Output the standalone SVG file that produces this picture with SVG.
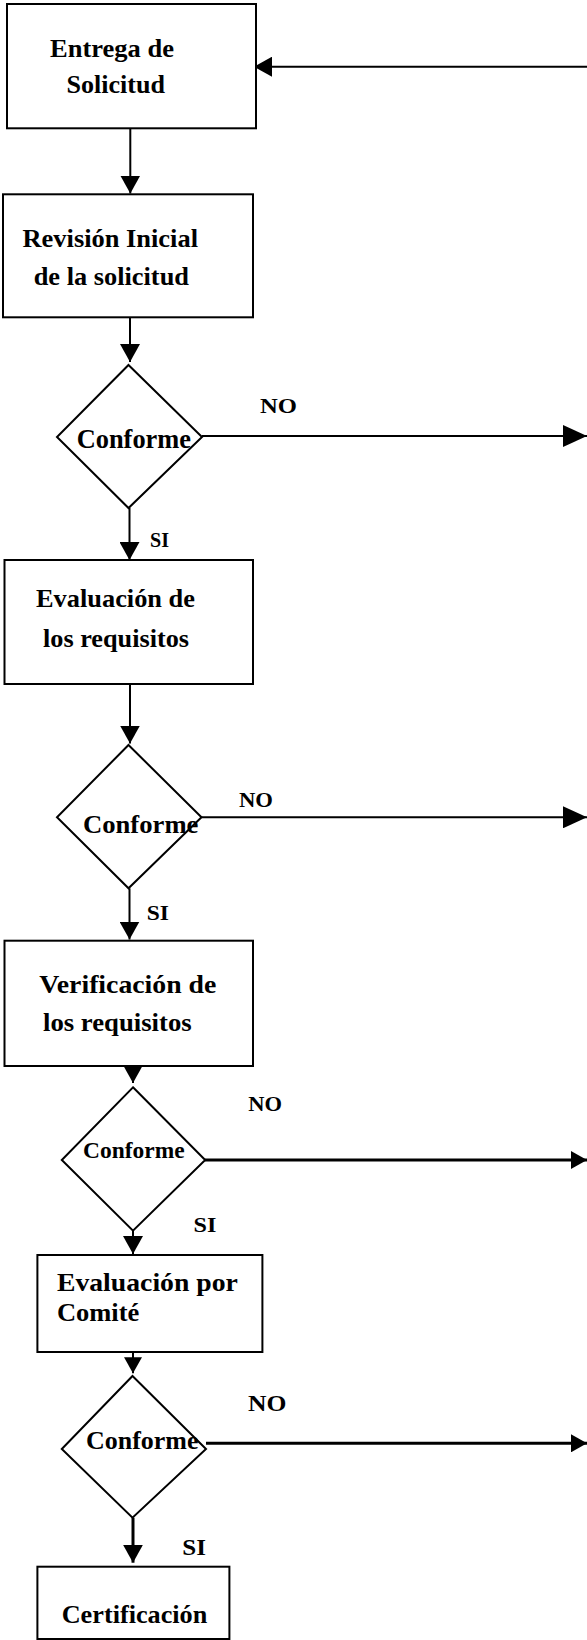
<svg xmlns="http://www.w3.org/2000/svg" width="587" height="1640" viewBox="0 0 587 1640">
<style>
  .box { fill: #ffffff; stroke: #000000; stroke-width: 2; }
  .dia { fill: #ffffff; stroke: #000000; stroke-width: 2; }
  .t { font-family: "Liberation Serif", "Times New Roman", serif; font-weight: bold; fill: #000000; }
  .ln { fill: none; stroke: #000000; stroke-width: 2; }
  .lnb { fill: none; stroke: #000000; stroke-width: 3; }
</style>
<defs>
  <marker id="m1" markerUnits="userSpaceOnUse" viewBox="0 0 18 20" refX="18" refY="10" markerWidth="18" markerHeight="20" orient="auto">
    <path d="M0,0 L18,10 L0,20 z" fill="#000000"/>
  </marker>
  <marker id="m2" markerUnits="userSpaceOnUse" viewBox="0 0 24 22" refX="24" refY="11" markerWidth="24" markerHeight="22" orient="auto">
    <path d="M0,0 L24,11 L0,22 z" fill="#000000"/>
  </marker>
  <marker id="m3" markerUnits="userSpaceOnUse" viewBox="0 0 16 18" refX="16" refY="9" markerWidth="16" markerHeight="18" orient="auto">
    <path d="M0,0 L16,9 L0,18 z" fill="#000000"/>
  </marker>
</defs>

<g id="connectors">
  <line class="ln" x1="587" y1="66.7" x2="254" y2="66.7" marker-end="url(#m1)"/>
  <line class="ln" x1="130.3" y1="128.3" x2="130.3" y2="193.5" marker-end="url(#m1)"/>
  <line class="ln" x1="130" y1="317.3" x2="130" y2="362" marker-end="url(#m1)"/>
  <line class="ln" x1="202" y1="436" x2="587" y2="436" marker-end="url(#m2)"/>
  <line class="ln" x1="129.5" y1="507.7" x2="129.5" y2="560" marker-end="url(#m1)"/>
  <line class="ln" x1="130" y1="684" x2="130" y2="743.5" marker-end="url(#m1)"/>
  <line class="ln" x1="201.4" y1="817.3" x2="587" y2="817.3" marker-end="url(#m2)"/>
  <line class="ln" x1="129.5" y1="888.3" x2="129.5" y2="939.5" marker-end="url(#m1)"/>
  <line class="ln" x1="133" y1="1058" x2="133" y2="1083" marker-end="url(#m1)"/>
  <line class="lnb" x1="205" y1="1160" x2="587" y2="1160" marker-end="url(#m3)"/>
  <line class="ln" x1="133" y1="1230.7" x2="133" y2="1254" marker-end="url(#m1)"/>
  <line class="ln" x1="133" y1="1351" x2="133" y2="1373.3" marker-end="url(#m3)"/>
  <line class="lnb" x1="206" y1="1443.3" x2="587" y2="1443.3" marker-end="url(#m3)"/>
  <line class="lnb" x1="133" y1="1517.7" x2="133" y2="1562.7" marker-end="url(#m1)"/>
</g>

<g id="entrega">
  <rect class="box" x="7" y="4" width="249" height="124.3"/>
  <text class="t" font-size="26" x="50" y="56.7" textLength="124" lengthAdjust="spacingAndGlyphs">Entrega de</text>
  <text class="t" font-size="26" x="66.6" y="92.7" textLength="98.4" lengthAdjust="spacingAndGlyphs">Solicitud</text>
</g>

<g id="revision">
  <rect class="box" x="3" y="194.3" width="250" height="123"/>
  <text class="t" font-size="26" x="22.5" y="246.7" textLength="175.5" lengthAdjust="spacingAndGlyphs">Revisión Inicial</text>
  <text class="t" font-size="26" x="33.7" y="285" textLength="155.3" lengthAdjust="spacingAndGlyphs">de la solicitud</text>
</g>

<g id="conforme1">
  <polygon class="dia" points="128.5,365 202,437 128.5,508 57,437"/>
  <text class="t" font-size="27" x="76.7" y="448.3" textLength="114.3" lengthAdjust="spacingAndGlyphs">Conforme</text>
</g>
<text class="t" font-size="22" x="260" y="413.3" textLength="37" lengthAdjust="spacingAndGlyphs">NO</text>
<text class="t" font-size="22" x="150" y="546.7" textLength="19" lengthAdjust="spacingAndGlyphs">SI</text>

<g id="evaluacion">
  <rect class="box" x="4.5" y="560" width="248.5" height="124"/>
  <text class="t" font-size="25" x="36" y="607.3" textLength="159" lengthAdjust="spacingAndGlyphs">Evaluación de</text>
  <text class="t" font-size="25" x="43" y="646.7" textLength="146" lengthAdjust="spacingAndGlyphs">los requisitos</text>
</g>

<g id="conforme2">
  <polygon class="dia" points="128.5,745 201.5,817.3 128.5,888.3 57,817.3"/>
  <text class="t" font-size="25" x="83" y="833.3" textLength="115.4" lengthAdjust="spacingAndGlyphs">Conforme</text>
</g>
<text class="t" font-size="22" x="239" y="807.3" textLength="34" lengthAdjust="spacingAndGlyphs">NO</text>
<text class="t" font-size="22" x="146.8" y="920" textLength="22.2" lengthAdjust="spacingAndGlyphs">SI</text>

<g id="verificacion">
  <rect class="box" x="4.5" y="940.7" width="248.5" height="125.3"/>
  <text class="t" font-size="25" x="39.3" y="993.3" textLength="177" lengthAdjust="spacingAndGlyphs">Verificación de</text>
  <text class="t" font-size="25" x="43" y="1030.7" textLength="148.7" lengthAdjust="spacingAndGlyphs">los requisitos</text>
</g>

<g id="conforme3">
  <polygon class="dia" points="133,1087.3 205.2,1160 133,1230.7 61.8,1160"/>
  <text class="t" font-size="24" x="83.1" y="1158.3" textLength="101.5" lengthAdjust="spacingAndGlyphs">Conforme</text>
</g>
<text class="t" font-size="22" x="248.2" y="1110.7" textLength="33.8" lengthAdjust="spacingAndGlyphs">NO</text>
<text class="t" font-size="22" x="193.6" y="1231.7" textLength="22.8" lengthAdjust="spacingAndGlyphs">SI</text>

<g id="comite">
  <rect class="box" x="37.4" y="1255" width="225" height="97"/>
  <text class="t" font-size="25" x="56.9" y="1290.7" textLength="181" lengthAdjust="spacingAndGlyphs">Evaluación por</text>
  <text class="t" font-size="25" x="56.9" y="1320.7" textLength="82.4" lengthAdjust="spacingAndGlyphs">Comité</text>
</g>

<g id="conforme4">
  <polygon class="dia" points="132.5,1376 206,1449 132.5,1517.7 61.8,1449"/>
  <text class="t" font-size="26" x="86" y="1449" textLength="112.4" lengthAdjust="spacingAndGlyphs">Conforme</text>
</g>
<text class="t" font-size="23" x="248" y="1410.7" textLength="38.4" lengthAdjust="spacingAndGlyphs">NO</text>
<text class="t" font-size="23" x="182.3" y="1555" textLength="23.7" lengthAdjust="spacingAndGlyphs">SI</text>

<g id="certificacion">
  <rect class="box" x="37.4" y="1566.7" width="192" height="72.3"/>
  <text class="t" font-size="26" x="61.7" y="1623.3" textLength="145.6" lengthAdjust="spacingAndGlyphs">Certificación</text>
</g>
</svg>
